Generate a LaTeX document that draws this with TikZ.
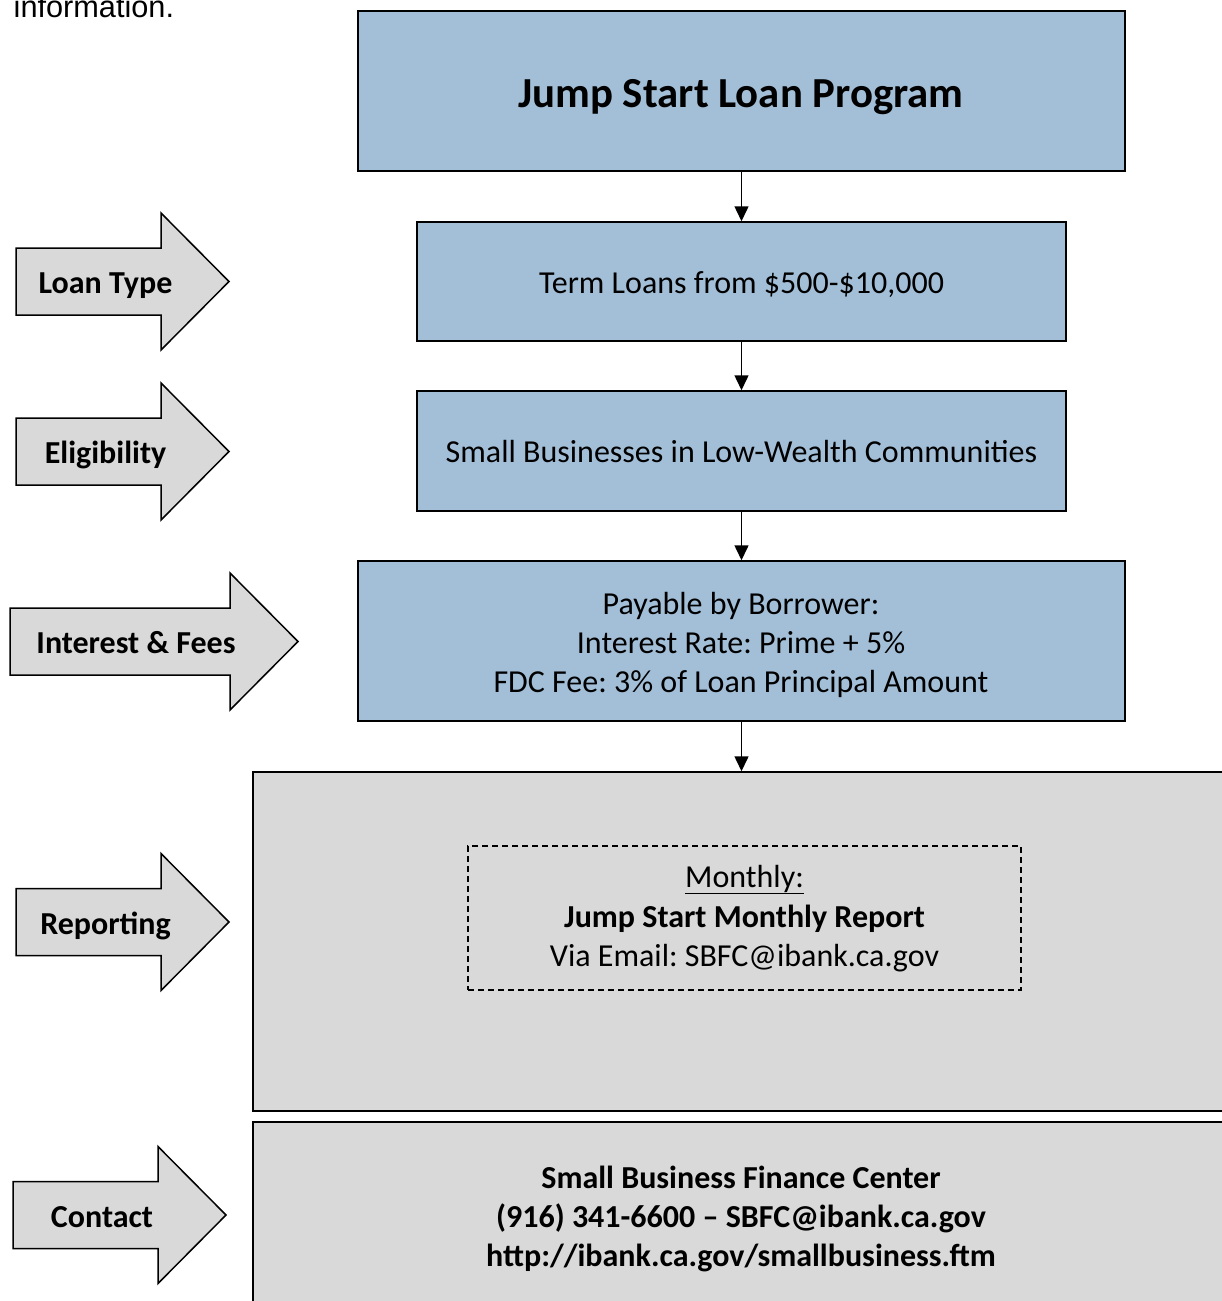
\documentclass[tikz,border=0pt]{standalone}
\usepackage{fontspec}
\setmainfont{Carlito}
\newfontfamily\arialf{Liberation Sans}
\usetikzlibrary{arrows.meta}
\definecolor{boxblue}{HTML}{A3BFD8}
\definecolor{boxgray}{HTML}{D9D9D9}
\frenchspacing
\newcommand{\sidearr}[4]{% x0, x1, x2, yc
  \draw[sidearrow] (#1,#4-33.5) -- (#2,#4-33.5) -- (#2,#4-68.5) -- (#3,#4) -- (#2,#4+68.5) -- (#2,#4+33.5) -- (#1,#4+33.5) -- cycle;}
\begin{document}
\begin{tikzpicture}[x=1pt,y=-1pt,
  bluebox/.style={draw=black, line width=1.5pt, fill=boxblue, inner sep=0pt},
  graybox/.style={draw=black, line width=1.5pt, fill=boxgray, inner sep=0pt},
  dashbox/.style={draw=black, line width=1.3pt, dash pattern=on 6pt off 4pt, inner sep=0pt},
  txt/.style={anchor=base, inner sep=0pt, font=\fontsize{32}{39}\selectfont},
  btxt/.style={txt, font=\fontsize{32}{39}\selectfont\bfseries},
  conn/.style={line width=1.5pt, -{Triangle[length=15pt,width=14pt]}},
  sidearrow/.style={draw=black, line width=1.5pt, fill=boxgray, line join=miter}
]
\useasboundingbox (0,0) rectangle (1222,1301);
\clip (0,0) rectangle (1222,1301);

% cut-off text at top (as in the reference)
\node[anchor=base west, inner sep=0pt, font=\arialf\fontsize{30.7}{36}\selectfont] (info) at (13.5,17) {information.};

% main boxes
\node[bluebox, minimum width=767pt, minimum height=160pt] (b1) at (741.5,91) {};
\node[bluebox, minimum width=649pt, minimum height=119pt] (b2) at (741.5,281.5) {};
\node[bluebox, minimum width=649pt, minimum height=120pt] (b3) at (741.5,451) {};
\node[bluebox, minimum width=767pt, minimum height=160pt] (b4) at (741.5,641) {};
\node[graybox, minimum width=987pt, minimum height=339pt] (b5) at (746.5,941.5) {};
\node[graybox, minimum width=987pt, minimum height=198pt] (b6) at (746.5,1221) {};
\node[dashbox, minimum width=553pt, minimum height=144pt] (d5) at (744.5,918) {};

% texts
\node[btxt, font=\fontsize{42.8}{50}\selectfont\bfseries] (t1) at (741,107.5) {Jump Start Loan Program};
\node[txt] (t2) at (741.5,293) {Term Loans from \$500-\$10,000};
\node[txt] (t3) at (741.5,462) {Small Businesses in Low-Wealth Communities};
\node[txt] (t4a) at (741,614) {Payable by Borrower:};
\node[txt] (t4b) at (741,653) {Interest Rate: Prime + 5\%};
\node[txt] (t4c) at (741,692) {FDC Fee: 3\% of Loan Principal Amount};
\node[txt] (t5a) at (744.5,887) {\underline{Monthly:}};
\node[btxt] (t5b) at (744.5,927) {Jump Start Monthly Report};
\node[txt] (t5c) at (744.5,966) {Via Email: SBFC@ibank.ca.gov};
\node[btxt] (t6a) at (741,1188) {Small Business Finance Center};
\node[btxt] (t6b) at (741,1227) {(916) 341-6600 – SBFC@ibank.ca.gov};
\node[btxt] (t6c) at (741,1266) {http://ibank.ca.gov/smallbusiness.ftm};

% connectors
\draw[conn] (b1.south) -- (b2.north);
\draw[conn] (b2.south) -- (b3.north);
\draw[conn] (b3.south) -- (b4.north);
\draw[conn] (b4.south) -- (b4.south |- b5.north);

% side arrows
\sidearr{16}{161}{229}{281.5}
\sidearr{16}{161}{229}{451.5}
\sidearr{10}{230}{298}{641.5}
\sidearr{16}{161}{229}{922}
\sidearr{13}{158}{226}{1215}

\node[btxt] (a1) at (105.5,293) {Loan Type};
\node[btxt] (a2) at (105.5,463) {Eligibility};
\node[btxt] (a3) at (136,653) {Interest \& Fees};
\node[btxt] (a4) at (105.5,934) {Reporting};
\node[btxt] (a5) at (102,1227) {Contact};
\end{tikzpicture}
\end{document}
